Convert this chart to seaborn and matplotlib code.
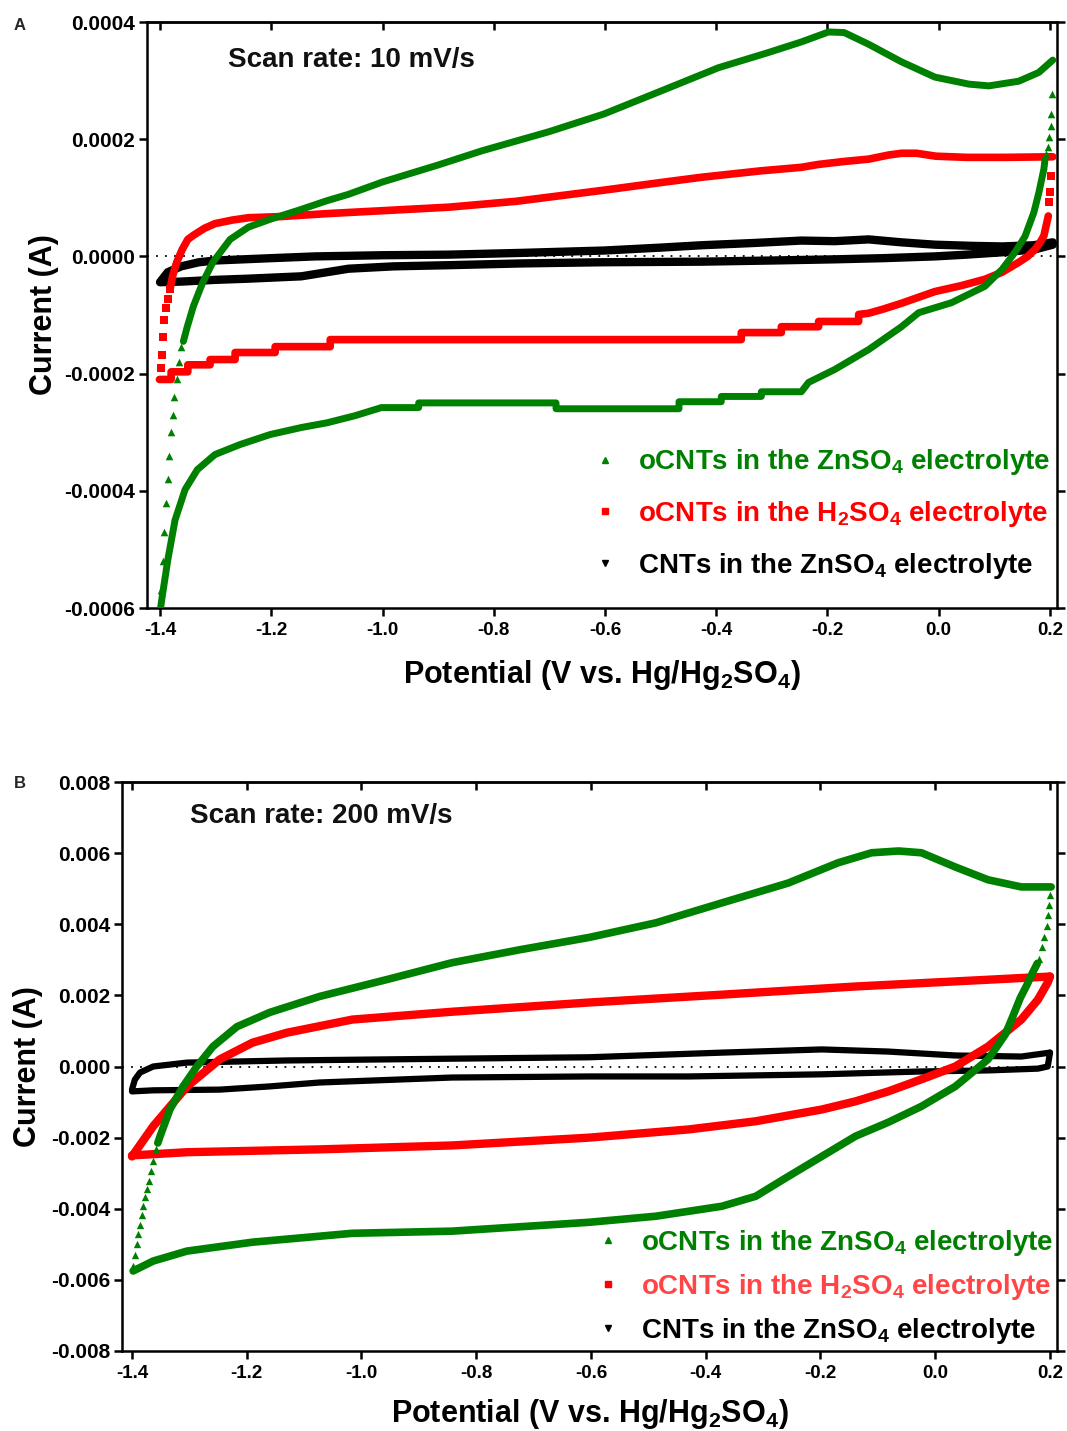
import numpy as np
import pandas as pd
import matplotlib
matplotlib.use("Agg")
import matplotlib.pyplot as plt
from matplotlib.lines import Line2D
from matplotlib.ticker import FixedLocator, FormatStrFormatter
import seaborn as sns

sns.set_theme(style="ticks")
plt.rcParams['font.family'] = ['Liberation Sans', 'DejaVu Sans']
plt.rcParams['font.weight'] = 'bold'
plt.rcParams['axes.labelweight'] = 'bold'
plt.rcParams['mathtext.fontset'] = 'custom'
plt.rcParams['mathtext.rm'] = 'Liberation Sans:bold'
plt.rcParams['mathtext.bf'] = 'Liberation Sans:bold'
plt.rcParams['axes.unicode_minus'] = False

GREEN = '#008000'
RED = '#ff0000'
BLACK = '#000000'

# ---------------- Panel A (10 mV/s) ----------------
A_green_fwd_tail_E = [-1.398, -1.395, -1.392, -1.389, -1.386, -1.383, -1.380, -1.377, -1.374, -1.370, -1.366, -1.362]
A_green_fwd_tail_I = [-0.00057, -0.00052, -0.00047, -0.00042, -0.00038, -0.00034, -0.00030, -0.00027, -0.00024, -0.00021, -0.00018, -0.000155]
A_green_fwd_E = [-1.358, -1.351, -1.340, -1.323, -1.305, -1.274, -1.241, -1.200, -1.150, -1.100, -1.061, -1.000, -0.900, -0.822,
                 -0.700, -0.602, -0.500, -0.396, -0.306, -0.247, -0.198, -0.170, -0.126, -0.067, -0.007, 0.054, 0.090, 0.144, 0.180, 0.205]
A_green_fwd_I = [-0.000145, -0.000120, -0.000085, -0.000044, -0.000010, 0.000029, 0.000050, 0.000064, 0.000079, 0.000095, 0.000106,
                 0.000127, 0.000156, 0.000180, 0.000213, 0.000243, 0.000282, 0.000322, 0.000348, 0.000366, 0.000383, 0.000382,
                 0.000362, 0.000332, 0.000306, 0.000294, 0.000291, 0.000299, 0.000314, 0.000335]
A_green_rev_tail_E = [0.204, 0.202, 0.201, 0.199, 0.196, 0.193]
A_green_rev_tail_I = [0.000277, 0.000243, 0.000222, 0.000203, 0.000186, 0.000174]
A_green_rev_E = [0.191, 0.189, 0.180, 0.171, 0.155, 0.137, 0.114, 0.083, 0.023, -0.036, -0.067, -0.126, -0.187, -0.234, -0.247,
                 -0.319, -0.319, -0.391, -0.391, -0.467, -0.467, -0.688, -0.688, -0.935, -0.935, -1.002, -1.050, -1.100, -1.146,
                 -1.202, -1.256, -1.301, -1.333, -1.355, -1.373, -1.386, -1.396, -1.399]
A_green_rev_I = [0.000165, 0.000149, 0.000109, 0.000075, 0.000034, 0.000007, -0.000022, -0.000051, -0.000079, -0.000096, -0.000120,
                 -0.000159, -0.000193, -0.000215, -0.000231, -0.000231, -0.000239, -0.000239, -0.000248, -0.000248, -0.000260,
                 -0.000260, -0.000250, -0.000250, -0.000258, -0.000258, -0.000272, -0.000284, -0.000292, -0.000304, -0.000321,
                 -0.000338, -0.000364, -0.000398, -0.000450, -0.000518, -0.000580, -0.000600]

A_red_fwd_tail_E = [-1.399, -1.397, -1.395, -1.392, -1.389, -1.386, -1.382]
A_red_fwd_tail_I = [-0.000190, -0.000168, -0.000138, -0.000108, -0.000088, -0.000072, -0.000056]
A_red_fwd_E = [-1.382, -1.377, -1.370, -1.360, -1.350, -1.340, -1.320, -1.301, -1.270, -1.241, -1.182, -1.100, -1.000, -0.881,
               -0.760, -0.602, -0.500, -0.427, -0.320, -0.247, -0.216, -0.170, -0.126, -0.090, -0.067, -0.040, -0.005, 0.050, 0.120, 0.205]
A_red_fwd_I = [-0.000056, -0.000032, -0.000010, 0.000012, 0.000029, 0.000036, 0.000048, 0.000056, 0.000062, 0.000066, 0.000068,
               0.000073, 0.000078, 0.000084, 0.000094, 0.000113, 0.000126, 0.000135, 0.000146, 0.000152, 0.000157, 0.000162,
               0.000166, 0.000173, 0.000176, 0.000176, 0.000171, 0.000169, 0.000169, 0.000170]
A_red_rev_tail_E = [0.201, 0.200, 0.198]
A_red_rev_tail_I = [0.000137, 0.000110, 0.000093]
A_red_rev_E = [0.197, 0.193, 0.189, 0.181, 0.173, 0.160, 0.144, 0.114, 0.083, 0.040, -0.007, -0.067, -0.100, -0.126, -0.144,
               -0.144, -0.216, -0.216, -0.283, -0.283, -0.355, -0.355, -1.094, -1.094, -1.193, -1.193, -1.265, -1.265, -1.310,
               -1.310, -1.350, -1.350, -1.380, -1.380, -1.401]
A_red_rev_I = [0.000069, 0.000052, 0.000035, 0.000022, 0.000012, 0.000000, -0.000010, -0.000027, -0.000039, -0.000050, -0.000060,
               -0.000080, -0.000090, -0.000097, -0.000099, -0.000111, -0.000111, -0.000120, -0.000120, -0.000130, -0.000130,
               -0.000142, -0.000142, -0.000154, -0.000154, -0.000164, -0.000164, -0.000176, -0.000176, -0.000185, -0.000185,
               -0.000197, -0.000197, -0.000210, -0.000210]

A_black_fwd_E = [-1.400, -1.386, -1.362, -1.330, -1.301, -1.200, -1.121, -1.000, -0.881, -0.750, -0.602, -0.500, -0.427, -0.330,
                 -0.247, -0.187, -0.126, -0.067, -0.007, 0.060, 0.114, 0.170, 0.205]
A_black_fwd_I = [-0.000044, -0.000027, -0.000017, -0.000010, -0.000007, -0.000003, 0.000000, 0.000002, 0.000003, 0.000006,
                 0.000010, 0.000015, 0.000019, 0.000023, 0.000027, 0.000026, 0.000029, 0.000024, 0.000020, 0.000018, 0.000017,
                 0.000019, 0.000024]
A_black_rev_E = [0.205, 0.173, 0.114, 0.050, -0.007, -0.100, -0.187, -0.300, -0.427, -0.607, -0.750, -0.881, -0.980, -1.061,
                 -1.146, -1.241, -1.300, -1.362, -1.398]
A_black_rev_I = [0.000020, 0.000012, 0.000007, 0.000003, 0.000000, -0.000003, -0.000005, -0.000007, -0.000009, -0.000010,
                 -0.000012, -0.000015, -0.000017, -0.000021, -0.000034, -0.000038, -0.000040, -0.000043, -0.000044]

# ---------------- Panel B (200 mV/s) ----------------
B_green_fwd_tail_E = [-1.398, -1.395, -1.392, -1.389, -1.386, -1.383, -1.380, -1.377, -1.374, -1.371, -1.367, -1.363, -1.358]
B_green_fwd_tail_I = [-0.00560, -0.00530, -0.00500, -0.00472, -0.00445, -0.00418, -0.00393, -0.00368, -0.00345, -0.00322,
                      -0.00295, -0.00265, -0.00232]
B_green_fwd_E = [-1.355, -1.351, -1.334, -1.311, -1.287, -1.259, -1.217, -1.160, -1.073, -0.957, -0.842, -0.725, -0.603, -0.487,
                 -0.372, -0.256, -0.169, -0.111, -0.064, -0.024, 0.035, 0.092, 0.150, 0.202]
B_green_fwd_I = [-0.00215, -0.00196, -0.00121, -0.00056, 0.00000, 0.00056, 0.00112, 0.00152, 0.00197, 0.00244, 0.00292, 0.00328,
                 0.00363, 0.00404, 0.00460, 0.00516, 0.00573, 0.00601, 0.00606, 0.00601, 0.00561, 0.00525, 0.00505, 0.00505]
B_green_rev_tail_E = [0.200, 0.199, 0.197, 0.194, 0.190, 0.186, 0.181]
B_green_rev_tail_I = [0.00483, 0.00455, 0.00425, 0.00395, 0.00365, 0.00335, 0.00303]
B_green_rev_E = [0.178, 0.170, 0.160, 0.148, 0.135, 0.122, 0.105, 0.092, 0.035, -0.024, -0.082, -0.139, -0.198, -0.256, -0.313,
                 -0.372, -0.487, -0.603, -0.842, -1.016, -1.190, -1.304, -1.363, -1.398]
B_green_rev_I = [0.00290, 0.00265, 0.00230, 0.00192, 0.00140, 0.00090, 0.00050, 0.00020, -0.00056, -0.00112, -0.00157, -0.00196,
                 -0.00253, -0.00309, -0.00365, -0.00393, -0.00421, -0.00438, -0.00463, -0.00469, -0.00494, -0.00519, -0.00547,
                 -0.00575]

B_red_fwd_E = [-1.400, -1.363, -1.304, -1.247, -1.190, -1.130, -1.016, -0.842, -0.603, -0.372, -0.139, 0.092, 0.200]
B_red_fwd_I = [-0.00253, -0.00168, -0.00056, 0.00020, 0.00067, 0.00095, 0.00132, 0.00154, 0.00180, 0.00202, 0.00225, 0.00244, 0.00253]
B_red_rev_E = [0.200, 0.196, 0.179, 0.150, 0.122, 0.092, 0.035, -0.024, -0.082, -0.139, -0.198, -0.313, -0.430, -0.603, -0.842,
               -1.073, -1.304, -1.400]
B_red_rev_I = [0.00253, 0.00236, 0.00188, 0.00132, 0.00095, 0.00056, 0.00000, -0.00036, -0.00070, -0.00098, -0.00121, -0.00154,
               -0.00177, -0.00200, -0.00222, -0.00233, -0.00241, -0.00250]

B_black_fwd_E = [-1.400, -1.395, -1.386, -1.363, -1.304, -1.130, -0.842, -0.603, -0.372, -0.198, -0.082, 0.035, 0.150, 0.200]
B_black_fwd_I = [-0.00065, -0.00037, -0.00017, 0.00000, 0.00011, 0.00017, 0.00022, 0.00026, 0.00039, 0.00048, 0.00042, 0.00031,
                 0.00028, 0.00039]
B_black_rev_E = [0.200, 0.196, 0.179, 0.092, -0.024, -0.198, -0.430, -0.603, -0.842, -1.073, -1.160, -1.247, -1.363, -1.400]
B_black_rev_I = [0.00039, 0.00000, -0.00006, -0.00011, -0.00014, -0.00022, -0.00028, -0.00028, -0.00031, -0.00045, -0.00056,
                 -0.00065, -0.00067, -0.00070]

x_ticks = [-1.4, -1.2, -1.0, -0.8, -0.6, -0.4, -0.2, 0.0, 0.2]
A_y_ticks = [-0.0006, -0.0004, -0.0002, 0.0, 0.0002, 0.0004]
B_y_ticks = [-0.008, -0.006, -0.004, -0.002, 0.0, 0.002, 0.004, 0.006, 0.008]

labels = [r'oCNTs in the ZnSO$_\mathbf{4}$ electrolyte',
          r'oCNTs in the H$_\mathbf{2}$SO$_\mathbf{4}$ electrolyte',
          r'CNTs in the ZnSO$_\mathbf{4}$ electrolyte']
xlabel = r'Potential (V vs. Hg/Hg$_\mathbf{2}$SO$_\mathbf{4}$)'

fig = plt.figure(figsize=(10.67, 14.31), dpi=100)
axA = fig.add_axes([147/1067, 1-608/1431, 910/1067, 586/1431])
axB = fig.add_axes([122/1067, 1-1351/1431, 935/1067, 569/1431])


def line(ax, E, I, color, lw):
    sns.lineplot(x=E, y=I, sort=False, estimator=None, color=color, lw=lw, ax=ax,
                 solid_joinstyle='round', solid_capstyle='round', zorder=3)


def tail(ax, E, I, color, marker, s):
    sns.scatterplot(x=E, y=I, color=color, marker=marker, s=s, linewidth=0, ax=ax, zorder=3)


# Panel A drawing
line(axA, A_black_fwd_E, A_black_fwd_I, BLACK, 6.0)
line(axA, A_black_rev_E, A_black_rev_I, BLACK, 6.0)
line(axA, A_red_fwd_E, A_red_fwd_I, RED, 5.5)
line(axA, A_red_rev_E, A_red_rev_I, RED, 5.5)
tail(axA, A_red_fwd_tail_E, A_red_fwd_tail_I, RED, 's', 30)
tail(axA, A_red_rev_tail_E, A_red_rev_tail_I, RED, 's', 30)
line(axA, A_green_fwd_E, A_green_fwd_I, GREEN, 5.0)
line(axA, A_green_rev_E, A_green_rev_I, GREEN, 5.0)
tail(axA, A_green_fwd_tail_E, A_green_fwd_tail_I, GREEN, '^', 30)
tail(axA, A_green_rev_tail_E, A_green_rev_tail_I, GREEN, '^', 30)

# Panel B drawing
line(axB, B_black_fwd_E, B_black_fwd_I, BLACK, 4.5)
line(axB, B_black_rev_E, B_black_rev_I, BLACK, 4.5)
line(axB, B_red_fwd_E, B_red_fwd_I, RED, 6.0)
line(axB, B_red_rev_E, B_red_rev_I, RED, 6.0)
line(axB, B_green_fwd_E, B_green_fwd_I, GREEN, 5.5)
line(axB, B_green_rev_E, B_green_rev_I, GREEN, 5.5)
tail(axB, B_green_fwd_tail_E, B_green_fwd_tail_I, GREEN, '^', 28)
tail(axB, B_green_rev_tail_E, B_green_rev_tail_I, GREEN, '^', 28)


def style(ax, xlim, ylim, yticks, yfmt, ylab_x, xlab_y, text_xy, scan_text, leg_anchor, leg_spacing, leg_colors):
    ax.set_xlim(*xlim)
    ax.set_ylim(*ylim)
    ax.axhline(0, ls=(0, (1, 4)), color='black', lw=1.3, zorder=1)
    ax.xaxis.set_major_locator(FixedLocator(x_ticks))
    ax.yaxis.set_major_locator(FixedLocator(yticks))
    ax.xaxis.set_major_formatter(FormatStrFormatter('%.1f'))
    ax.yaxis.set_major_formatter(FormatStrFormatter(yfmt))
    for sp in ax.spines.values():
        sp.set_visible(True)
        sp.set_linewidth(1.8)
        sp.set_color('black')
    ax.tick_params(axis='both', direction='out', length=6, width=1.8, color='black', labelcolor='black')
    ax.tick_params(axis='x', labelsize=13.5, pad=4)
    ax.tick_params(axis='y', labelsize=15, pad=2.5, right=True, labelright=False)
    sec = ax.secondary_xaxis('top')
    sec.xaxis.set_major_locator(FixedLocator(x_ticks))
    sec.tick_params(direction='in', length=6, width=1.8, labeltop=False, color='black')
    sec.spines['top'].set_linewidth(1.8)
    ax.set_ylabel('Current (A)', fontsize=22, fontweight='bold', color='black')
    ax.yaxis.set_label_coords(ylab_x, 0.5)
    ax.set_xlabel(xlabel, fontsize=22, fontweight='bold', color='black')
    ax.xaxis.set_label_coords(0.5, xlab_y)
    ax.text(text_xy[0], text_xy[1], scan_text, transform=ax.transAxes, fontsize=20,
            fontweight='bold', ha='left', va='center', color='#111111')
    handles = [Line2D([], [], ls='none', marker='^', color=GREEN, markersize=4),
               Line2D([], [], ls='none', marker='s', color=RED, markersize=4),
               Line2D([], [], ls='none', marker='v', color=BLACK, markersize=4)]
    leg = ax.legend(handles, labels, loc='upper left', bbox_to_anchor=leg_anchor, frameon=False,
                    handlelength=1.0, handletextpad=0.69, labelspacing=leg_spacing,
                    borderpad=0, borderaxespad=0, prop={'weight': 'bold', 'size': 20})
    for txt, c in zip(leg.get_texts(), leg_colors):
        txt.set_color(c)


style(axA, (-1.4234, 0.2126), (-0.0006, 0.0004), A_y_ticks, '%.4f', -0.097, -0.086,
      (0.089, 0.935), 'Scan rate: 10 mV/s', (0.488, 0.274), 0.78, [GREEN, RED, BLACK])
style(axB, (-1.4174, 0.2122), (-0.008, 0.008), B_y_ticks, '%.3f', -0.085, -0.080,
      (0.0727, 0.940), 'Scan rate: 200 mV/s', (0.505, 0.2166), 0.51, [GREEN, '#ff4545', BLACK])

fig.text(20/1067, 1-25/1431, 'A', fontsize=12, fontweight='bold', ha='center', va='center')
fig.text(20/1067, 1-783/1431, 'B', fontsize=12, fontweight='bold', ha='center', va='center')

fig.savefig('out.png', dpi=100, facecolor='white')
